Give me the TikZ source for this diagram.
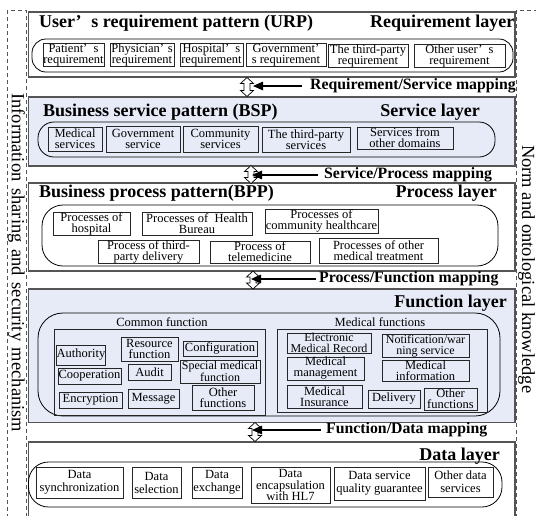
\documentclass[tikz,border=0pt]{standalone}
\usepackage{fontspec}
\setmainfont{Liberation Serif}
\usetikzlibrary{arrows.meta}
\definecolor{layerblue}{RGB}{230,235,247}
\definecolor{framegray}{RGB}{85,85,85}

\tikzset{
  layer/.style={draw=framegray, line width=1.1pt},
  bluelayer/.style={layer, fill=layerblue},
  pill/.style={draw=black, line width=0.8pt, rounded corners=#1},
  groupbox/.style={draw=black!85, line width=0.7pt},
  ibox/.style={draw=black!85, line width=0.8pt, inner sep=0.3pt, align=center,
    font=\fontsize{12.5}{11}\selectfont},
  dbox/.style={font=\fontsize{12.5}{13}\selectfont},
  narrowtext/.style={font=\fontsize{12}{11}\selectfont},
  grouplabel/.style={font=\fontsize{12.5}{11}\selectfont, inner sep=0pt, anchor=base},
  title/.style={font=\fontsize{18}{18}\selectfont\bfseries, inner sep=0pt},
  maplabel/.style={font=\fontsize{15.8}{15}\selectfont\bfseries, inner sep=0pt, anchor=west},
  hollowarrow/.style={draw=black, line width=0.7pt, fill=white},
  maparrow/.style={line width=1.4pt, -{Triangle[length=10pt,width=8.5pt]}},
  panel/.style={draw=framegray, dash pattern=on 4pt off 3pt, line width=0.8pt},
  sidetext/.style={rotate=-90, font=\fontsize{18.5}{18}\selectfont, inner sep=0pt, anchor=base west},
  % hollow up-down block arrow of total length #1, centred on the pic origin
  updown/.pic={
    \draw[hollowarrow] (0,{-#1/2}) -- (6.5,{-#1/2+6}) -- (3,{-#1/2+6}) -- (3,{#1/2-6})
      -- (6.5,{#1/2-6}) -- (0,{#1/2}) -- (-6.5,{#1/2-6}) -- (-3,{#1/2-6})
      -- (-3,{-#1/2+6}) -- (-6.5,{-#1/2+6}) -- cycle;
    \coordinate (-east) at (6.5,0);
  },
}

% box given by its corners: name, x1, y1, x2, y2, text
\newcommand\ibx[7][]{\node[ibox,#1,minimum width={#5-#3},minimum height={#6-#4}] (#2) at ({(#3+#5)/2},{(#4+#6)/2}) {#7};}

\begin{document}
\begin{tikzpicture}[x=1pt,y=-1pt]
\useasboundingbox (0,0) rectangle (536,515);

% side panels
\draw[panel] (7,10) rectangle (26.5,530);
\draw[panel] (516.5,10) rectangle (560,530);
\node[sidetext] (infosec) at (12,93) {\makebox[339pt]{Information\hfill sharing\hfill and\hfill security\hfill mechanism}};
\node[sidetext] (norm) at (522,145) {Norm and ontological knowledge};

% layer frames
\draw[layer] (28.5,12) rectangle (515,77);
\draw[bluelayer] (28.5,97) rectangle (515,166);
\draw[layer] (28.5,183) rectangle (515,271);
\draw[bluelayer] (28.5,289) rectangle (515,422.5);
\draw[layer] (28.5,442) rectangle (515,530);

% ---------- requirement layer ----------
\node[title, anchor=base west] (urp) at (39,27) {User’\hspace{0.55em}s requirement pattern (URP)};
\node[title, anchor=base east] (reqlayer) at (514.5,27) {Requirement layer};
\draw[pill=14pt] (32,39) rectangle (513,72);
\ibx{r1}{43}{44}{104}{66}{Patient’\hspace{0.5em}s\\requirement}
\ibx{r2}{110}{44}{174}{66}{Physician’\hspace{0.3em}s\\requirement}
\ibx{r3}{180}{44}{243}{66}{Hospital’\hspace{0.5em}s\\requirement}
\ibx{r4}{246}{44}{326}{66}{Government’\\s requirement}
\ibx{r5}{328}{45}{408}{66}{The third-party\\requirement}
\ibx{r6}{414}{45}{505}{66}{Other user’\hspace{0.5em}s\\requirement}

% ---------- service layer ----------
\node[title, anchor=base west] (bsp) at (43,116) {Business service pattern (BSP)};
\node[title, anchor=base east] (svclayer) at (480,116) {Service layer};
\draw[pill=16pt] (38,122) rectangle (495,157);
\ibx{s1}{48}{127}{102}{151}{Medical\\services}
\ibx{s2}{106}{126}{180}{152}{Government\\service}
\ibx{s3}{183}{126}{258}{152}{Community\\services}
\ibx{s4}{262}{127}{350}{152}{The third-party\\services}
\ibx{s5}{357}{127}{453}{149}{Services from\\other domains}

% ---------- process layer ----------
\node[title, anchor=base west] (bpp) at (39,197) {Business process pattern(BPP)};
\node[title, anchor=base east] (proclayer) at (497,197) {Process layer};
\draw[pill=21pt] (42,205) rectangle (498,266);
\ibx{p1}{53}{212}{130}{235}{Processes of\\hospital}
\ibx{p2}{142}{212}{252}{235}{Processes of\ \ Health\\Bureau}
\ibx{p3}{265}{209}{378}{233}{Processes of\\community healthcare}
\ibx{p4}{98}{241}{199}{263}{Process of third-\\party delivery}
\ibx{p5}{210}{241}{310}{263}{Process of\\telemedicine}
\ibx{p6}{319}{238}{438}{263}{Processes of other\\medical treatment}

% ---------- function layer ----------
\node[title, anchor=base east] (funclayer) at (507,307) {Function layer};
\draw[pill=25pt] (38,313) rectangle (500,416);
\draw[groupbox] (54,329) rectangle (265,415);
\draw[groupbox] (277,329) rectangle (487,412);
\node[grouplabel] (cfun) at (162,326) {Common function};
\node[grouplabel] (mfun) at (380,326) {Medical functions};
\ibx{c1}{58}{345}{104}{365}{Authority}
\ibx{c2}{121}{337}{178}{361}{Resource\\function}
\ibx{c3}{183}{341}{257}{356}{Configuration}
\ibx{c4}{58}{368}{121}{384}{Cooperation}
\ibx{c5}{128}{364}{171}{380}{Audit}
\ibx[narrowtext]{c6}{180}{360}{260}{383}{Special medical\\function}
\ibx{c7}{59}{392}{122}{408}{Encryption}
\ibx{c8}{128}{389}{179}{408}{Message}
\ibx{c9}{192}{385}{254}{410}{Other\\functions}
\ibx[narrowtext]{m1}{287}{333}{371}{353}{Electronic\\Medical Record}
\ibx[narrowtext]{m2}{382}{335}{469}{357}{Notification/war\\ning service}
\ibx{m3}{287}{358}{364}{379}{Medical\\management}
\ibx{m4}{382}{361}{469}{381}{Medical\\information}
\ibx{m5}{287}{385}{362}{408}{Medical\\Insurance}
\ibx{m6}{368}{390}{420}{408}{Delivery}
\ibx{m7}{424}{388}{477}{410}{Other\\functions}

% ---------- data layer ----------
\node[title, anchor=base east] (datalayer) at (500,460) {Data layer};
\draw[pill=20pt] (28.5,462) rectangle (502,507);
\ibx[dbox]{d1}{36}{467}{123}{498}{Data\\synchronization}
\ibx[dbox]{d2}{132}{467}{181}{498}{Data\\selection}
\ibx[dbox]{d3}{192}{467}{242}{498}{Data\\exchange}
\ibx[font=\fontsize{12.5}{11.5}\selectfont]{d4}{251}{467}{330}{503}{Data\\encapsulation\\with HL7}
\ibx[dbox]{d5}{334}{467}{425}{500}{Data service\\quality guarantee}
\ibx[dbox]{d6}{428}{467}{493}{497}{Other data\\services}

% ---------- mappings between layers ----------
\pic (h1) at (247,87) {updown=19};
\pic (h2) at (251,174.5) {updown=18};
\pic (h3) at (253,280) {updown=18};
\pic (h4) at (255,432) {updown=19};

\node[maplabel] (map1) at (310,86) {Requirement/Service mapping};
\node[maplabel] (map2) at (324,175) {Service/Process mapping};
\node[maplabel] (map3) at (319,279) {Process/Function mapping};
\node[maplabel] (map4) at (326,430) {Function/Data mapping};

\draw[maparrow, shorten <=8pt, shorten >=-0.5pt] (map1.west) -- (map1.west -| h1-east);
\draw[maparrow, shorten <=6pt, shorten >=-5.5pt] (map2.west) -- (map2.west -| h2-east);
\draw[maparrow, shorten <=3pt, shorten >=-8.5pt] (map3.west) -- (map3.west -| h3-east);
\draw[maparrow, shorten <=5pt, shorten >=-9.5pt] (map4.west) -- (map4.west -| h4-east);
\end{tikzpicture}
\end{document}
